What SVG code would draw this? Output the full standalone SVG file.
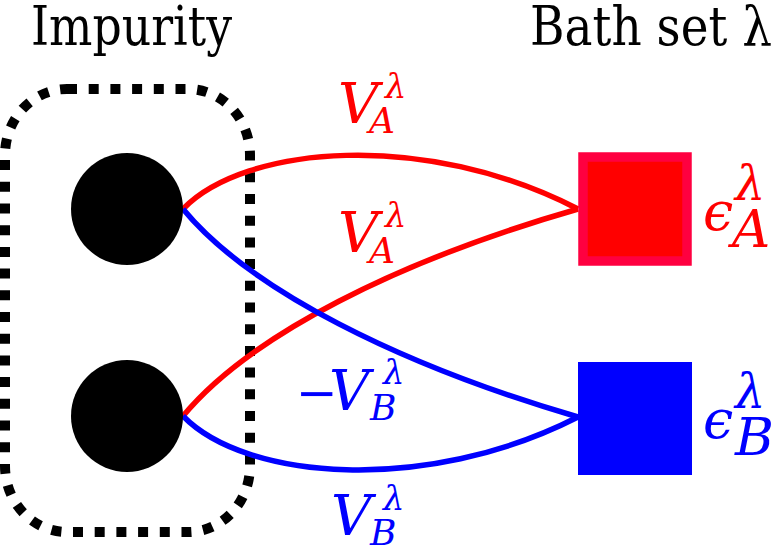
<svg xmlns="http://www.w3.org/2000/svg" width="776" height="547" viewBox="0 0 776 547">
<style>
text{font-family:'DejaVu Serif',serif;}
.i{font-style:italic;}
.r{fill:#ff0000;}
.b{fill:#0000ff;}
.big{font-size:56px;}
.sm{font-size:36px;}
.lam{font-size:34px;}
.title{font-size:55px;}
.line{fill:none;stroke-width:5.5;}
</style>
<rect width="776" height="547" fill="#ffffff"/>
<text class="title" x="31" y="45" textLength="201" lengthAdjust="spacingAndGlyphs">Impurity</text>
<text class="title" x="530" y="45" textLength="242" lengthAdjust="spacingAndGlyphs">Bath set λ</text>
<g id="impurity-box">
<rect x="5" y="89" width="245" height="443" rx="62" ry="66" fill="none" stroke="#000000" stroke-width="10" stroke-dasharray="10 11.7"/>
</g>
<g id="connectors">
<path class="line" stroke="#ff0000" d="M183,209 C245,145 425,130 578,209"/>
<path class="line" stroke="#ff0000" d="M183,416 C250,335 400,260 578,209"/>
<path class="line" stroke="#0000ff" d="M183,209 C250,290 400,365 578,417"/>
<path class="line" stroke="#0000ff" d="M183,416 C245,480 425,495 578,417"/>
</g>
<g id="site-A"><circle cx="127" cy="209" r="56" fill="#000000"/></g>
<g id="site-B"><circle cx="127" cy="416" r="56" fill="#000000"/></g>
<g id="bath-A"><rect x="583" y="157" width="104" height="104" fill="#ff0000" stroke="#ff0040" stroke-width="9.5"/></g>
<g id="bath-B"><rect x="578" y="362" width="114" height="113" fill="#0000ff"/></g>
<g id="labels">
<g class="r">
<text class="i big" x="338" y="123">V</text>
<text class="i sm" x="369" y="133">A</text>
<text class="i lam" x="385" y="98">λ</text>
<text class="i big" x="338" y="252">V</text>
<text class="i sm" x="369" y="263">A</text>
<text class="i lam" x="385" y="227">λ</text>
<text class="i" style="font-size:54px" x="703" y="230">ϵ</text>
<text class="i" style="font-size:48px" x="735" y="200">λ</text>
<text class="i" style="font-size:53px" x="732" y="247">A</text>
</g>
<g class="b">
<text x="296" y="410" style="font-size:50px">−</text>
<text class="i big" x="329" y="410">V</text>
<text class="i sm" x="370" y="420">B</text>
<text class="i lam" x="383" y="384">λ</text>
<text class="i big" x="331" y="535">V</text>
<text class="i sm" x="370" y="545">B</text>
<text class="i lam" x="383" y="510">λ</text>
<text class="i" style="font-size:54px" x="703" y="438">ϵ</text>
<text class="i" style="font-size:48px" x="735" y="408">λ</text>
<text class="i" style="font-size:53px" x="735" y="455">B</text>
</g>
</g>
</svg>
